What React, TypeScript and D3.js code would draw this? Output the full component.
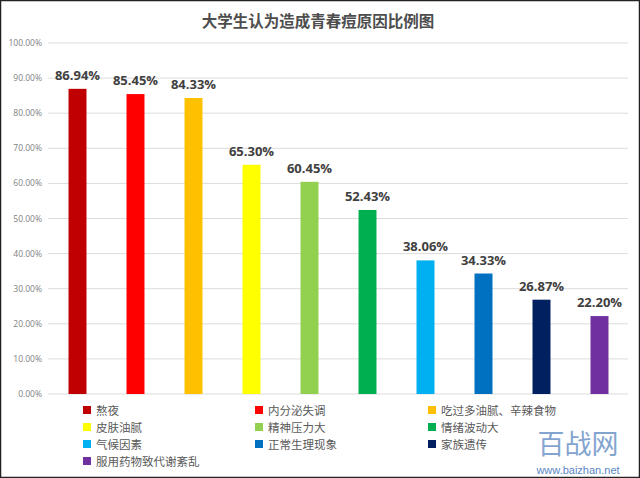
import React from "react";
import * as d3 from "d3";

const title = "大学生认为造成青春痘原因比例图";
const categories = ["熬夜", "内分泌失调", "吃过多油腻、辛辣食物", "皮肤油腻", "精神压力大", "情绪波动大", "气候因素", "正常生理现象", "家族遗传", "服用药物致代谢紊乱"];
const values = [86.94, 85.45, 84.33, 65.3, 60.45, 52.43, 38.06, 34.33, 26.87, 22.2];
const colors = ["#C00000", "#FF0000", "#FFC000", "#FFFF00", "#92D050", "#00B050", "#00B0F0", "#0070C0", "#002060", "#7030A0"];
const yTicks = [0, 10, 20, 30, 40, 50, 60, 70, 80, 90, 100];

const W = 640, H = 478;

export default function App() {
  const x = d3.scaleBand<string>().domain(categories).range([48.5, 628.5]).paddingInner(0.69).paddingOuter(0.345);
  const y = d3.scaleLinear().domain([0, 100]).range([394, 43]);
  const legendCols = [83, 255, 428];
  const legendRows = [410, 427, 444, 461];
  const font = "'Open Sans', 'Noto Sans CJK SC', sans-serif";
  const cjk = "'Noto Sans CJK SC', sans-serif";
  return (
    <svg width={W} height={H} style={{ position: "absolute", left: 0, top: 0, background: "#fff" }} xmlns="http://www.w3.org/2000/svg">
      <rect x={0} y={0} width={W} height={H} fill="#fff" />
      <text x={318} y={27} textAnchor="middle" fontFamily={cjk} fontWeight="bold" fontSize={15.5} fill="#4d4d4d">{title}</text>
      {yTicks.map((t) => (
        <g key={t}>
          <line x1={48} x2={628} y1={y(t)} y2={y(t)} stroke="#dcdcdc" strokeWidth={1} />
          <text x={42} y={y(t) + 3} textAnchor="end" fontFamily={font} fontSize={8.5} fill="#7f7f7f">{t.toFixed(2) + "%"}</text>
        </g>
      ))}
      {categories.map((c, i) => (
        <g key={c}>
          <rect x={x(c)} y={y(values[i])} width={x.bandwidth()} height={y(0) - y(values[i])} fill={colors[i]} />
          <text x={(x(c) as number) + x.bandwidth() / 2} y={y(values[i]) - 9} textAnchor="middle" fontFamily={font} fontWeight="bold" fontSize={13} fill="#404040">{values[i].toFixed(2) + "%"}</text>
        </g>
      ))}
      {categories.map((c, i) => {
        const col = i % 3, row = Math.floor(i / 3);
        return (
          <g key={"lg" + c}>
            <rect x={legendCols[col]} y={legendRows[row] - 4} width={8} height={8} fill={colors[i]} />
            <text x={legendCols[col] + 13} y={legendRows[row] + 4.5} fontFamily={cjk} fontSize={11.5} fill="#595959">{c}</text>
          </g>
        );
      })}
      <text x={578} y={454} textAnchor="middle" fontFamily={cjk} fontSize={27} fill="#6f95c8" opacity={0.85}>百战网</text>
      <text x={578} y={474} textAnchor="middle" fontFamily="'Liberation Sans', sans-serif" fontSize={11} fill="#5b86c4">www.baizhan.net</text>
      <rect x={0.5} y={0.5} width={W - 1} height={H - 1} fill="none" stroke="#222" strokeWidth={1.5} />
    </svg>
  );
}
